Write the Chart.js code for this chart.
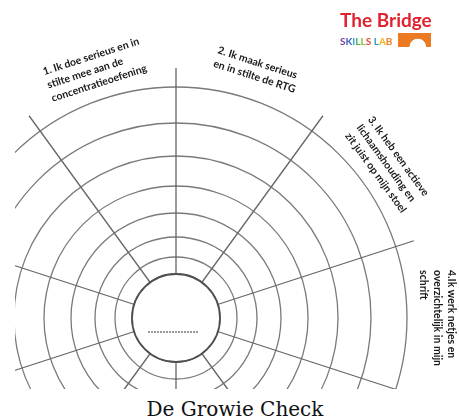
<!DOCTYPE html>
<html>
<head>
<meta charset="utf-8">
<title>De Growie Check</title>
<script src="https://cdn.jsdelivr.net/npm/chart.js@4.4.0/dist/chart.umd.min.js"></script>
<style>
  body { margin: 0; width: 459px; height: 419px; background: #fff; position: relative; overflow: hidden; }
  #clip { position: absolute; left: 15px; top: 0; width: 444px; height: 389px; overflow: hidden; }
  #growie { position: absolute; left: -139px; top: 18px; }
  #title { position: absolute; left: 0; top: 399px; width: 470px; text-align: center;
           font-family: "DejaVu Serif", serif; font-size: 20px; line-height: 20px; color: #111; }
  #brand { position: absolute; left: 340px; top: 10px; font-family: Lato, sans-serif; font-weight: 700;
           font-size: 19px; line-height: 19px; color: #e0232f; }
  #lab { position: absolute; left: 340px; top: 36px; font-family: Lato, sans-serif; font-weight: 700;
         font-size: 10px; line-height: 10px; }
  #arch { position: absolute; left: 398px; top: 33px; width: 33px; height: 14px;
          background: radial-gradient(circle at 60% 100%, #fff 8px, #ec7a23 8.6px); }
</style>
</head>
<body>
<div id="clip"><canvas id="growie" width="600" height="600"></canvas></div>
<div id="brand">The Bridge</div>
<div id="lab"><span style="color:#7c3c9a">S</span><span style="color:#3f5fc8">K</span><span style="color:#2ea6d8">I</span><span style="color:#4fae4f">L</span><span style="color:#8cbf3c">L</span><span style="color:#e8473a">S</span> <span style="color:#2aa0c0">L</span><span style="color:#f1b31c">A</span><span style="color:#ef7d22">B</span></div>
<div id="arch"></div>
<div id="title">De Growie Check</div>
<script>
const canvas = document.getElementById("growie");

// statements (one per segment, only the first four are on the sheet)
const categories = [
  ["1. Ik doe serieus en in", "stilte mee aan de", "concentratieoefening"],
  ["2. Ik maak serieus", "en in stilte de RTG"],
  ["3. Ik heb een actieve", "lichaamshouding en", "zit juist op mijn stoel"],
  ["4.Ik werk netjes en", "overzichtelijk in mijn", "schrift"],
  [], [], [], [], [], [],
];
// empty worksheet: nothing coloured in yet
const scores = [0, 0, 0, 0, 0, 0, 0, 0, 0, 0];
// ring positions on the radial scale (first ring = hub)
const ringValues = [0, 44, 61, 81, 105, 132, 162, 195, 231];
const scaleMax = 250;

//hub, dashed name line and the rotated statements
const sheetPlugin = {
  id: "sheet",
  afterDraw(chart) {
    const r = chart.scales.r;
    const ctx = chart.ctx;
    const cx = r.xCenter;
    const cy = r.yCenter;
    const hub = r.getDistanceFromCenterForValue(ringValues[1]);
    ctx.save();
    ctx.beginPath();
    ctx.arc(cx, cy, hub, 0, Math.PI * 2);
    ctx.fillStyle = "#fff";
    ctx.fill();
    ctx.lineWidth = 1.8;
    ctx.strokeStyle = "#4f4f4f";
    ctx.stroke();
    ctx.setLineDash([2, 1]);
    ctx.lineWidth = 1;
    ctx.strokeStyle = "#333";
    ctx.beginPath();
    ctx.moveTo(cx - 28, cy + 14);
    ctx.lineTo(cx + 23, cy + 14);
    ctx.stroke();
    ctx.setLineDash([]);

    ctx.font = "bold 10.5px Lato";
    ctx.fillStyle = "#1a1a1a";
    ctx.textAlign = "left";
    ctx.textBaseline = "middle";
    chart.data.labels.forEach((lines, i) => {
      if (!lines.length) return;
      let rot = r.getIndexAngle(i + 0.5);
      if (rot > Math.PI) rot -= Math.PI * 2;
      const p = r.getPointPosition(i + 0.5, r.drawingArea + 11);
      const w = Math.max(...lines.map((l) => ctx.measureText(l).width));
      ctx.save();
      ctx.translate(p.x, p.y);
      ctx.rotate(rot);
      lines.forEach((l, j) => {
        ctx.fillText(l, -w / 2, (j - (lines.length - 1) / 2) * 14);
      });
      ctx.restore();
    });
    ctx.restore();
  },
};

let growieChart = new Chart(canvas, {
  type: "polarArea",
  plugins: [sheetPlugin],
  data: {
    labels: categories,
    datasets: [
      {
        data: scores,
        backgroundColor: "rgba(0,0,0,0)",
        borderWidth: 0,
      },
    ],
  },
  options: {
    responsive: false,
    animation: false,
    layout: { padding: 50 },
    plugins: {
      legend: { display: false },
      tooltip: { enabled: false },
    },
    scales: {
      r: {
        min: 0,
        max: scaleMax,
        startAngle: -36,
        afterBuildTicks: (scale) => {
          scale.ticks = ringValues.map((v) => ({ value: v }));
        },
        ticks: { display: false },
        pointLabels: { display: false },
        grid: { circular: true, color: "#7a7a7a", lineWidth: 1.3 },
        angleLines: { display: true, color: "#666", lineWidth: 1.3 },
      },
    },
  },
});
</script>
</body>
</html>
